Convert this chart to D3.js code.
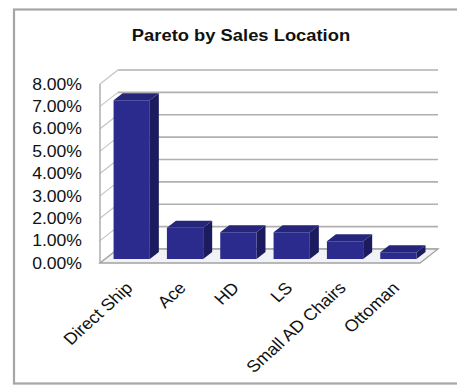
<!DOCTYPE html>
<html>
<head>
<meta charset="utf-8">
<script src="https://cdn.jsdelivr.net/npm/d3@7"></script>
<style>
  html, body { margin: 0; padding: 0; background: #ffffff; }
  svg { display: block; }
  text { font-family: "Liberation Sans", Arial, sans-serif; fill: #111; }
</style>
</head>
<body>
<svg id="chart" width="457" height="387"></svg>
<script>
// Share of total by sales location
const categories = ["Direct Ship", "Ace", "HD", "LS", "Small AD Chairs", "Ottoman"];
const shares = [0.071, 0.014, 0.012, 0.012, 0.008, 0.003];
const yTicks = [0, 0.01, 0.02, 0.03, 0.04, 0.05, 0.06, 0.07, 0.08];
const title = "Pareto by Sales Location";

const svg = d3.select("#chart");

// oblique projection used for the 3-D look: depth fraction z in [0,1]
const DX = 18, DY = -14;
const barZ0 = 0.28, barZ1 = 0.78;
const stretch = 1.1;

const x = d3.scaleBand().domain(categories).range([100, 420])
  .paddingInner(0.32).paddingOuter(0.16);
const y = d3.scaleLinear().domain([0, 0.08]).range([263, 84]);
const fmt = d3.format(".2%");

const P = (px, py, z) => [px + z * DX, py + z * DY];
const poly = pts => "M" + pts.map(p => p.join(",")).join("L") + "Z";

// outer frame
svg.append("rect")
  .attr("x", 14).attr("y", 9.5).attr("width", 470).attr("height", 374)
  .attr("fill", "#fff").attr("stroke", "#a6a6a6").attr("stroke-width", 2.2);

// title
svg.append("text")
  .attr("transform", "translate(241,41) scale(1.08,1)")
  .attr("text-anchor", "middle")
  .style("font-weight", "bold").style("font-size", "17px")
  .text(title);

const [x0, x1] = x.range();
const yb = y(0), yt = y(0.08);

// left side wall and back wall
svg.append("path")
  .attr("d", poly([P(x0, yb, 0), P(x0, yt, 0), P(x0, yt, 1), P(x0, yb, 1)]))
  .attr("fill", "#fff").attr("stroke", "none");
svg.append("path")
  .attr("d", poly([P(x0, yb, 1), P(x0, yt, 1), P(x1, yt, 1), P(x1, yb, 1)]))
  .attr("fill", "#fff").attr("stroke", "none");

const grid = svg.append("g").attr("fill", "none").attr("stroke", "#b0b0b0").attr("stroke-width", 1.7);
// back-wall gridlines
grid.selectAll("line.back").data(yTicks).join("line").attr("class", "back")
  .attr("x1", d => P(x0, y(d), 1)[0]).attr("y1", d => P(x0, y(d), 1)[1])
  .attr("x2", d => P(x1, y(d), 1)[0]).attr("y2", d => P(x1, y(d), 1)[1]);
// side-wall gridlines
grid.selectAll("line.side").data(yTicks).join("line").attr("class", "side")
  .attr("stroke", "#c4c4c4").attr("stroke-width", 1.2)
  .attr("x1", d => P(x0, y(d), 0)[0]).attr("y1", d => P(x0, y(d), 0)[1])
  .attr("x2", d => P(x0, y(d), 1)[0]).attr("y2", d => P(x0, y(d), 1)[1]);
// front edge of the side wall
grid.append("line")
  .attr("x1", x0).attr("y1", yb).attr("x2", x0).attr("y2", yt)
  .attr("stroke", "#a8a8a8").attr("stroke-width", 1.4);

// floor
svg.append("path")
  .attr("d", poly([P(x0, yb, 0), P(x1, yb, 0), P(x1, yb, 1), P(x0, yb, 1)]))
  .attr("fill", "#f1f2f5").attr("stroke", "#a3a3a3").attr("stroke-width", 1.3);

// 3-D bars
const bars = svg.append("g").selectAll("g").data(categories.map((c, i) => ({ c, v: shares[i] })))
  .join("g");
bars.each(function (d) {
  const g = d3.select(this);
  const l = x(d.c), r = x(d.c) + x.bandwidth();
  const b = y(0), t = y(d.v);
  // right side face
  g.append("path")
    .attr("d", poly([P(r, b, barZ0), P(r, t, barZ0), P(r, t, barZ1), P(r, b, barZ1)]))
    .attr("fill", "#1b1b5e");
  // top face
  g.append("path")
    .attr("d", poly([P(l, t, barZ0), P(r, t, barZ0), P(r, t, barZ1), P(l, t, barZ1)]))
    .attr("fill", "#25257c");
  // front face
  g.append("path")
    .attr("d", poly([P(l, b, barZ0), P(r, b, barZ0), P(r, t, barZ0), P(l, t, barZ0)]))
    .attr("fill", "#2b2b8e");
});

// y axis labels on the front plane
const yAxis = svg.append("g").attr("transform", `translate(${x0},0)`)
  .call(d3.axisLeft(y).tickValues(yTicks).tickFormat(fmt).tickSize(0).tickPadding(0));
yAxis.select(".domain").remove();
yAxis.selectAll("text")
  .attr("x", 0)
  .attr("transform", `translate(-18,0) scale(${stretch},1)`)
  .style("font-size", "16px").style("font-family", "Liberation Sans, Arial, sans-serif")
  .attr("fill", "#111");

// category labels, slanted
const xAxis = svg.append("g").attr("transform", `translate(0,${yb})`)
  .call(d3.axisBottom(x).tickSize(0).tickPadding(0));
xAxis.select(".domain").remove();
xAxis.selectAll("text")
  .attr("x", 0).attr("y", 0).attr("dy", 0)
  .attr("text-anchor", "end")
  .attr("transform", `translate(7,26) scale(${stretch},1) rotate(-45)`)
  .style("font-size", "16.5px").style("font-family", "Liberation Sans, Arial, sans-serif")
  .attr("fill", "#111");
</script>
</body>
</html>
